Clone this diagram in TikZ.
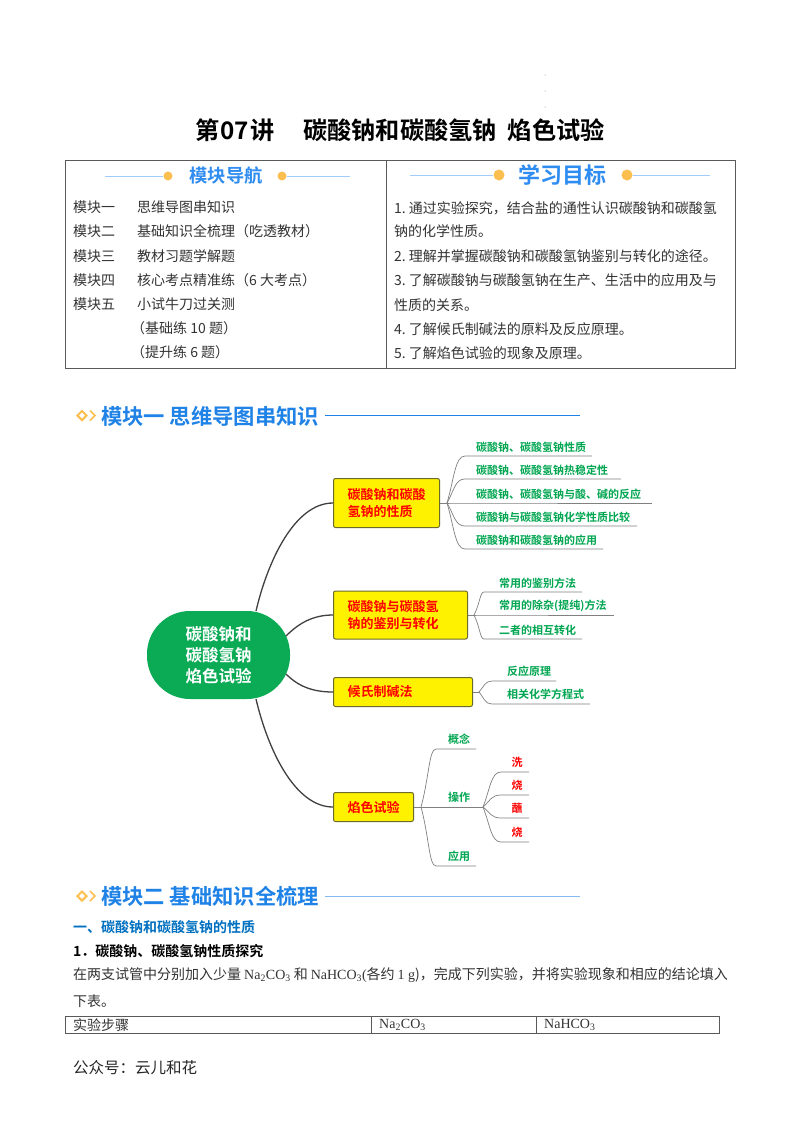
\documentclass[tikz,border=0pt]{standalone}
\usepackage{fontspec}
\setmainfont{Noto Sans CJK SC}[BoldFont=Noto Sans CJK SC Bold]
\newfontfamily\latfont{Liberation Serif}
\usetikzlibrary{shapes.geometric}
\definecolor{headblue}{HTML}{1E82E6}
\definecolor{navblue}{HTML}{2F8CF0}
\definecolor{dotorange}{HTML}{FBBF4F}
\definecolor{leafgreen}{HTML}{00A651}
\definecolor{blobgreen}{HTML}{0BAB55}
\definecolor{sectblue}{HTML}{0070C0}
\definecolor{boxedge}{HTML}{6B6B2E}
\tikzset{
    rowtext/.style={anchor=west,inner sep=0pt,text=black!80,font=\fontsize{14pt}{14pt}\selectfont},
    navtitle/.style={inner sep=0pt,text=navblue,font=\fontsize{#1pt}{#1pt}\selectfont\bfseries},
    navdot/.style={circle,fill=dotorange,inner sep=0pt,minimum size=9pt},
    navline/.style={draw=navblue!45,line width=0.5pt},
    headtext/.style={anchor=west,inner sep=0pt,text=headblue,font=\fontsize{21.3pt}{22pt}\selectfont\bfseries},
    hicon/.style={diamond,draw=dotorange,line width=2pt,inner sep=0pt,minimum size=10pt},
    trunk/.style={draw=black!75,line width=1.3pt},
    twig/.style={draw=black!50,line width=0.7pt},
    yellowbox/.style={anchor=west,rectangle,rounded corners=2pt,fill=yellow,draw=boxedge,line width=1pt,
        align=left,inner xsep=14pt,inner ysep=0pt,text=red,font=\fontsize{13pt}{17.5pt}\selectfont\bfseries},
    leaf/.style={anchor=west,inner sep=0pt,text=leafgreen,font=\fontsize{11pt}{11pt}\selectfont\bfseries},
    redleaf/.style={inner sep=0pt,text=red,font=\fontsize{11pt}{11pt}\selectfont\bfseries},
    tabletext/.style={anchor=west,inner sep=0pt,text=black!80,font=\fontsize{14pt}{14pt}\selectfont},
}
\begin{document}
\begin{tikzpicture}[x=1pt,y=-1pt]
    \useasboundingbox (0,0) rectangle (800,1132);
    \fill[white] (0,0) rectangle (800,1132);

    % --- top marks and title ---
    \foreach \i/\y in {1/75,2/91,3/107} {%
        \fill[black!50] (545,\y) circle (0.5pt);
    }
    \node[inner sep=0pt,font=\fontsize{24.2pt}{24pt}\selectfont\bfseries] (title) at (400,130) {第\hspace{1pt}07\hspace{1pt}讲\hspace{29pt}碳酸钠和碳酸氢钠\hspace{11pt}焰色试验};

    % --- navigation table ---
    \draw[black!65,line width=1pt] (65,160) rectangle (735,368);
    \draw[black!65,line width=0.8pt] (386,160) -- (386,368);

    \node[navtitle=18.3] (navL) at (226,176) {模块导航};
    \node[navdot] (dotL1) at (168,176) {};
    \node[navdot] (dotL2) at (282,176) {};
    \coordinate (lineL1) at (105,176);
    \coordinate (lineL2) at (350,176);
    \draw[navline] (lineL1) -- (dotL1);
    \draw[navline] (dotL2) -- (lineL2);

    \node[navtitle=22] (navR) at (562,175) {学习目标};
    \node[navdot,minimum size=11pt] (dotR1) at (499,175) {};
    \node[navdot,minimum size=11pt] (dotR2) at (627,175) {};
    \coordinate (lineR1) at (410,175);
    \coordinate (lineR2) at (710,175);
    \draw[navline] (lineR1) -- (dotR1);
    \draw[navline] (dotR2) -- (lineR2);

    % rows on the left
    \foreach \i/\y/\a/\b in {1/207/模块一/思维导图串知识,
                             2/231/模块二/基础知识全梳理（吃透教材）,
                             3/256/模块三/教材习题学解题,
                             4/280/模块四/核心考点精准练（6 大考点）,
                             5/304/模块五/小试牛刀过关测} {%
        \node[rowtext] (modA\i) at (73,\y) {\a};
        \node[rowtext] (modB\i) at (137,\y) {\b};
    }
    \node[rowtext] (modB6) at (131,328) {（基础练 10 题）};
    \node[rowtext] (modB7) at (131,352) {（提升练 6 题）};

    % rows on the right
    \foreach \i/\y/\b in {1/208/1.\hspace{3pt}通过实验探究，结合盐的通性认识碳酸钠和碳酸氢,
                          2/231/钠的化学性质。,
                          3/256/2.\hspace{3pt}理解并掌握碳酸钠和碳酸氢钠鉴别与转化的途径。,
                          4/280/3.\hspace{3pt}了解碳酸钠与碳酸氢钠在生产、生活中的应用及与,
                          5/305/性质的关系。,
                          6/329/4.\hspace{3pt}了解候氏制碱法的原料及反应原理。,
                          7/353/5.\hspace{3pt}了解焰色试验的现象及原理。} {%
        \node[rowtext] (goal\i) at (394,\y) {\b};
    }

    % --- module one heading ---
    \node[hicon] (iconA) at (82,415.5) {};
    \coordinate (chevA1) at (90,410.5);
    \coordinate (chevA2) at (95,415.5);
    \coordinate (chevA3) at (90,420.5);
    \draw[dotorange,line width=1.6pt] (chevA1) -- (chevA2) -- (chevA3);
    \node[headtext] (headA) at (101,416) {模块一 思维导图串知识};
    \coordinate (ruleA1) at (325,415);
    \coordinate (ruleA2) at (580,415);
    \draw[headblue,line width=1pt] (ruleA1) -- (ruleA2);

    % --- mind map ---
    \node[rectangle,rounded corners=43pt,fill=blobgreen,minimum width=143pt,minimum height=88pt,inner sep=0pt,
          align=center,text=white,font=\fontsize{16.5pt}{21.3pt}\selectfont\bfseries] (hub) at (218.5,655) {碳酸钠和\\碳酸氢钠\\焰色试验};

    \node[yellowbox,minimum width=106pt,minimum height=49pt,text width=78pt] (boxA) at (333,503) {碳酸钠和碳酸\\氢钠的性质};
    \node[yellowbox,minimum width=134pt,minimum height=48pt,text width=106pt] (boxB) at (333,615) {碳酸钠与碳酸氢\\钠的鉴别与转化};
    \node[yellowbox,minimum width=139pt,minimum height=29pt,text width=111pt] (boxC) at (333,692) {候氏制碱法};
    \node[yellowbox,minimum width=80pt,minimum height=29pt,text width=52pt,align=center] (boxD) at (333,807) {焰色试验};

    \coordinate (hubA) at (256,611);
    \coordinate (hubB) at (286,636);
    \coordinate (hubC) at (286,674);
    \coordinate (hubD) at (256,699);
    \draw[trunk] (hubA) .. controls (268,560) and (295,503) .. (boxA.west);
    \draw[trunk] (hubB) .. controls (298,624) and (312,615) .. (boxB.west);
    \draw[trunk] (hubC) .. controls (298,686) and (312,692) .. (boxC.west);
    \draw[trunk] (hubD) .. controls (268,750) and (295,807) .. (boxD.west);

    % branch one
    \def\fx{447}\def\fy{503}
    \coordinate (fanA) at (\fx,\fy);
    \draw[twig] (boxA.east) -- (fanA);
    \foreach \i/\y/\xs/\xe/\txt in {1/456/465/592/碳酸钠、碳酸氢钠性质,
                                    2/479/465/621/碳酸钠、碳酸氢钠热稳定性,
                                    3/503/465/652/碳酸钠、碳酸氢钠与酸、碱的反应,
                                    4/526/465/637/碳酸钠与碳酸氢钠化学性质比较,
                                    5/549/465/603/碳酸钠和碳酸氢钠的应用} {%
        \coordinate (startA\i) at (\xs,\y);
        \coordinate (endA\i) at (\xe,\y);
        \node[leaf] (leafA\i) at (476,{\y-9}) {\txt};
        \draw[twig] (fanA) .. controls ({\fx+7},{(\fy+\y)/2}) and ({\fx+8},\y) .. (startA\i) -- (endA\i);
    }

    % branch two
    \def\fx{474}\def\fy{615}
    \coordinate (fanB) at (\fx,\fy);
    \draw[twig] (boxB.east) -- (fanB);
    \foreach \i/\y/\xs/\xe/\txt in {1/592/484/582/常用的鉴别方法,
                                    2/615/484/614/常用的除杂(提纯)方法,
                                    3/639/484/582/二者的相互转化} {%
        \coordinate (startB\i) at (\xs,\y);
        \coordinate (endB\i) at (\xe,\y);
        \node[leaf] (leafB\i) at (499,{\y-9}) {\txt};
        \draw[twig] (fanB) .. controls ({\fx+6},{(\fy+\y)/2}) and ({\fx+6},\y) .. (startB\i) -- (endB\i);
    }

    % branch three
    \def\fx{479}\def\fy{692}
    \coordinate (fanC) at (\fx,\fy);
    \draw[twig] (boxC.east) -- (fanC);
    \foreach \i/\y/\xs/\xe/\txt in {1/681/492/556/反应原理,
                                    2/704/492/590/相关化学方程式} {%
        \coordinate (startC\i) at (\xs,\y);
        \coordinate (endC\i) at (\xe,\y);
        \node[leaf] (leafC\i) at (507,{\y-10}) {\txt};
        \draw[twig] (fanC) .. controls ({\fx+5},{(\fy+\y)/2}) and ({\fx+6},\y) .. (startC\i) -- (endC\i);
    }

    % branch four
    \def\fx{421}\def\fy{807}
    \coordinate (fanD) at (\fx,\fy);
    \draw[twig] (boxD.east) -- (fanD);
    \foreach \i/\y/\xs/\xe/\txt in {1/749/436/476/概念,
                                    2/807/436/483/操作,
                                    3/866/436/476/应用} {%
        \coordinate (startD\i) at (\xs,\y);
        \coordinate (endD\i) at (\xe,\y);
        \node[leaf] (leafD\i) at (448,{\y-10}) {\txt};
        \draw[twig] (fanD) .. controls ({\fx+8},{(\fy+\y)/2}) and ({\fx+8},\y) .. (startD\i) -- (endD\i);
    }

    % branch four, second level
    \def\fx{483}\def\fy{807}
    \coordinate (fanE) at (\fx,\fy);
    \foreach \i/\y/\txt in {1/772/洗,2/795/烧,3/818/蘸,4/842/烧} {%
        \coordinate (startE\i) at (501,\y);
        \coordinate (endE\i) at (529,\y);
        \node[redleaf] (leafE\i) at (517,{\y-10}) {\txt};
        \draw[twig] (fanE) .. controls ({\fx+7},{(\fy+\y)/2}) and ({\fx+8},\y) .. (startE\i) -- (endE\i);
    }

    % --- module two heading ---
    \node[hicon] (iconB) at (82,896) {};
    \coordinate (chevB1) at (90,891);
    \coordinate (chevB2) at (95,896);
    \coordinate (chevB3) at (90,901);
    \draw[dotorange,line width=1.6pt] (chevB1) -- (chevB2) -- (chevB3);
    \node[headtext] (headB) at (101,896) {模块二 基础知识全梳理};
    \coordinate (ruleB1) at (325,896);
    \coordinate (ruleB2) at (580,896);
    \draw[headblue!55,line width=1pt] (ruleB1) -- (ruleB2);

    % --- running text ---
    \node[anchor=west,inner sep=0pt,text=sectblue,font=\fontsize{14pt}{14pt}\selectfont\bfseries] (sect) at (73,927) {一、碳酸钠和碳酸氢钠的性质};
    \node[anchor=west,inner sep=0pt,font=\fontsize{14pt}{14pt}\selectfont\bfseries] (sub) at (73,951) {1．碳酸钠、碳酸氢钠性质探究};
    \node[tabletext] (para1) at (73,975) {在两支试管中分别加入少量\hspace{3pt}{\latfont Na\textsubscript{2}CO\textsubscript{3}}\hspace{3pt}和\hspace{3pt}{\latfont NaHCO\textsubscript{3}(}各约\hspace{3pt}{\latfont 1 g})，完成下列实验，并将实验现象和相应的结论填入};
    \node[tabletext] (para2) at (73,1001) {下表。};

    % --- small table ---
    \draw[black!65,line width=1pt] (65,1016) rectangle (719,1033);
    \draw[black!65,line width=1pt] (371,1016) -- (371,1033);
    \draw[black!65,line width=1pt] (536,1016) -- (536,1033);
    \node[tabletext] (cell1) at (73,1025) {实验步骤};
    \node[tabletext] (cell2) at (379,1025) {\latfont Na\textsubscript{2}CO\textsubscript{3}};
    \node[tabletext] (cell3) at (544,1025) {\latfont NaHCO\textsubscript{3}};

    \node[anchor=west,inner sep=0pt,text=black!85,font=\fontsize{15.5pt}{16pt}\selectfont] (footer) at (73,1068) {公众号：云儿和花};
\end{tikzpicture}
\end{document}
